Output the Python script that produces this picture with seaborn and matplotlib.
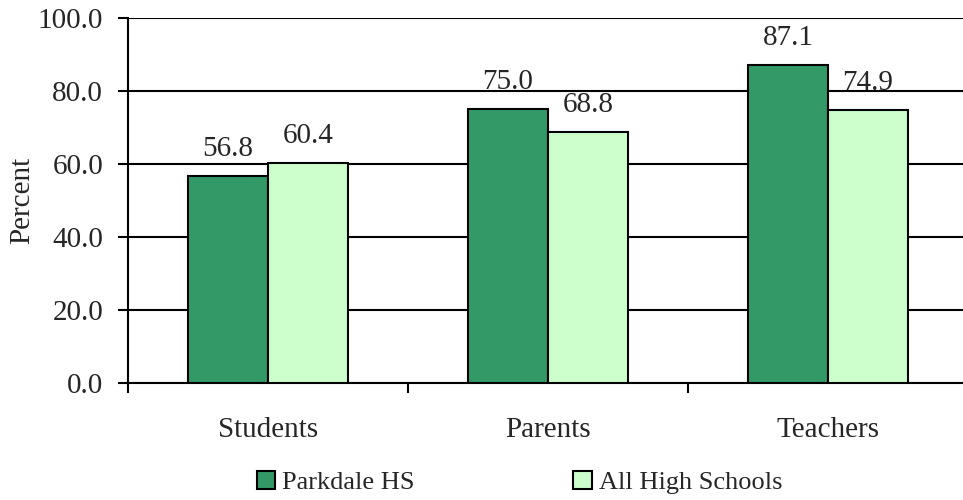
import matplotlib
matplotlib.use("Agg")
import matplotlib.pyplot as plt
import seaborn as sns
import pandas as pd
from matplotlib.patches import Patch
from matplotlib.ticker import FixedLocator

categories = ["Students", "Parents", "Teachers"]
series_names = ["Parkdale HS", "All High Schools"]
parkdale = [56.8, 75.0, 87.1]
all_hs = [60.4, 68.8, 74.9]
yticks = [0, 20, 40, 60, 80, 100]
colors = ["#339966", "#CCFFCC"]

df = pd.DataFrame({
    "Group": categories * 2,
    "Series": [series_names[0]] * 3 + [series_names[1]] * 3,
    "Percent": parkdale + all_hs,
})

sns.set_style("white")
plt.rcParams["font.family"] = ["Liberation Serif", "DejaVu Serif"]

FS = 21

fig = plt.figure(figsize=(9.63, 5.0), dpi=100)
ax = fig.add_axes([128 / 963, 1 - 383 / 500, (963 - 128) / 963, (383 - 18) / 500])

sns.barplot(data=df, x="Group", y="Percent", hue="Series", order=categories,
            hue_order=series_names, palette=colors, width=0.571, gap=0,
            edgecolor="black", linewidth=1.5, saturation=1, ax=ax, legend=False,
            zorder=3)

ax.set_xlim(-0.5, -0.5 + 835 / 280)
ax.set_ylim(0, 100)
ax.set_yticks(yticks)
ax.set_yticklabels([f"{v:.1f}" for v in yticks])
ax.yaxis.grid(True, color="black", linewidth=1.5, zorder=0)
ax.set_axisbelow(True)

for c in ax.containers:
    ax.bar_label(c, labels=[f"{v:.1f}" for v in c.datavalues], padding=10, fontsize=FS)

for s in ["top", "right"]:
    ax.spines[s].set_visible(False)
for s in ["left", "bottom"]:
    ax.spines[s].set_color("black")
    ax.spines[s].set_linewidth(1.5)

ax.set_xlabel("")
ax.set_ylabel("Percent", fontsize=FS, va="center")
ax.yaxis.set_label_coords((22 - 128) / 835, 0.5)
ax.tick_params(axis="y", which="major", left=True, length=7, width=1.5, color="black",
               labelsize=FS, pad=11)
ax.tick_params(axis="x", which="major", bottom=False, labelsize=FS, pad=21)
ax.xaxis.set_minor_locator(FixedLocator([-0.5, 0.5, 1.5, 2.5]))
ax.tick_params(axis="x", which="minor", bottom=True, length=7, width=1.5, color="black")

handles = [Patch(facecolor=colors[i], edgecolor="black", linewidth=1.5) for i in range(2)]
fig.legend(handles, series_names, loc="center", bbox_to_anchor=(0.5395, 0.035), ncol=2,
           frameon=False, fontsize=19, handlelength=0.7, handleheight=0.7,
           handletextpad=0.27, columnspacing=6, borderpad=0)

fig.savefig("out.png", dpi=100)
